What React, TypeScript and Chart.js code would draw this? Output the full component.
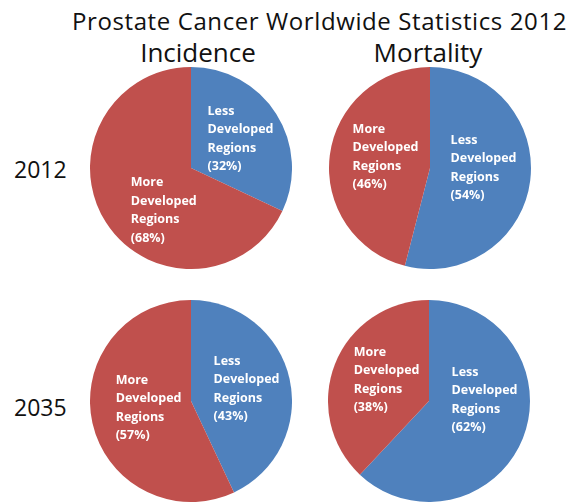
import React, { useEffect, useRef } from "react";
import { Chart, registerables } from "chart.js";

Chart.register(...registerables);

const titleText = "Prostate Cancer Worldwide Statistics 2012";
const columnLabels = ["Incidence", "Mortality"];
const rowLabels = ["2012", "2035"];
const regionLabels = ["Less Developed Regions", "More Developed Regions"];
const incidence2012 = [32, 68];
const mortality2012 = [54, 46];
const incidence2035 = [43, 57];
const mortality2035 = [62, 38];

const BLUE = "#4F81BD";
const RED = "#C0504D";

type PieSpec = {
  values: number[];
  cx: number;
  cy: number;
  offsets: [number, number][];
};

const pies: PieSpec[] = [
  { values: incidence2012, cx: 191, cy: 168, offsets: [[0.49, -0.29], [-0.27, 0.42]] },
  { values: mortality2012, cx: 430, cy: 168, offsets: [[0.53, 0.0], [-0.44, -0.11]] },
  { values: incidence2035, cx: 191, cy: 401, offsets: [[0.55, -0.12], [-0.42, 0.07]] },
  { values: mortality2035, cx: 429, cy: 401, offsets: [[0.55, -0.01], [-0.42, -0.21]] },
];

const SIZE = 202;
const FONT = "'Open Sans', 'DejaVu Sans', sans-serif";

const labelPlugin = {
  id: "sliceLabels",
  afterDatasetsDraw(chart: any, _args: any, opts: any) {
    const ctx = chart.ctx;
    const meta = chart.getDatasetMeta(0);
    const data = chart.data.datasets[0].data as number[];
    const labels = chart.data.labels as string[];
    ctx.save();
    ctx.fillStyle = "#ffffff";
    ctx.font = `bold 12.5px ${FONT}`;
    ctx.textBaseline = "middle";
    ctx.textAlign = "left";
    const lh = 18.5;
    meta.data.forEach((arc: any, i: number) => {
      const off = opts.offsets[i];
      const r = arc.outerRadius;
      const x = arc.x + off[0] * r;
      const y = arc.y + off[1] * r;
      const words = labels[i].split(" ");
      const lines = [words[0], words[1], words[2], `(${data[i]}%)`];
      const w = Math.max(...lines.map((l) => ctx.measureText(l).width));
      const top = y - ((lines.length - 1) * lh) / 2;
      lines.forEach((l, k) => ctx.fillText(l, x - w / 2, top + k * lh));
    });
    ctx.restore();
  },
};

function Pie({ spec }: { spec: PieSpec }) {
  const ref = useRef<HTMLCanvasElement>(null);
  useEffect(() => {
    const chart = new Chart(ref.current!, {
      type: "pie",
      data: {
        labels: regionLabels,
        datasets: [
          {
            data: spec.values,
            backgroundColor: [BLUE, RED],
            borderWidth: 0,
            hoverOffset: 0,
          },
        ],
      },
      options: {
        responsive: false,
        animation: false,
        layout: { padding: 0 },
        plugins: {
          legend: { display: false },
          tooltip: { enabled: false },
          sliceLabels: { offsets: spec.offsets },
        } as any,
      },
      plugins: [labelPlugin],
    });
    return () => chart.destroy();
  }, [spec]);
  return (
    <canvas
      ref={ref}
      width={SIZE}
      height={SIZE}
      style={{
        position: "absolute",
        left: spec.cx - SIZE / 2,
        top: spec.cy - SIZE / 2,
        width: SIZE,
        height: SIZE,
      }}
    />
  );
}

const textStyle: React.CSSProperties = {
  position: "absolute",
  fontFamily: FONT,
  color: "#111",
  whiteSpace: "nowrap",
  lineHeight: 1,
};

export default function App() {
  return (
    <div style={{ position: "absolute", left: 0, top: 0, width: 571, height: 503, background: "#fff", overflow: "hidden" }}>
      <div style={{ ...textStyle, left: 72, top: 9, fontSize: 24, letterSpacing: 0.6 }}>{titleText}</div>
      <div style={{ ...textStyle, left: 198, top: 39, fontSize: 26, transform: "translateX(-50%)" }}>{columnLabels[0]}</div>
      <div style={{ ...textStyle, left: 428, top: 39, fontSize: 26, transform: "translateX(-50%)" }}>{columnLabels[1]}</div>
      <div style={{ ...textStyle, left: 14, top: 158, fontSize: 23 }}>{rowLabels[0]}</div>
      <div style={{ ...textStyle, left: 14, top: 396, fontSize: 23 }}>{rowLabels[1]}</div>
      {pies.map((p, i) => (
        <Pie key={i} spec={p} />
      ))}
    </div>
  );
}
